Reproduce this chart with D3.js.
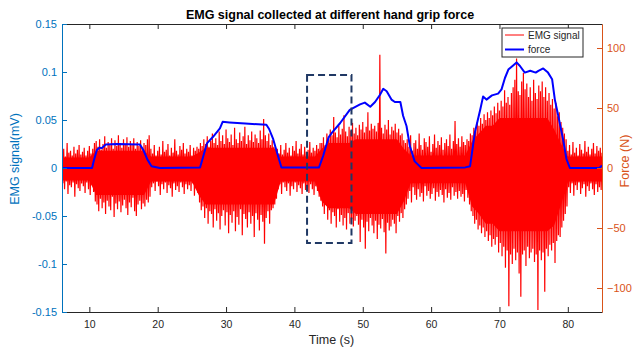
<!DOCTYPE html>
<html>
<head>
<meta charset="utf-8">
<script src="https://cdn.jsdelivr.net/npm/d3@7"></script>
<style>
  body { margin: 0; background: #fff; }
  svg { display: block; font-family: "Liberation Sans", Arial, Helvetica, sans-serif; }
</style>
</head>
<body>
<svg id="chart" width="633" height="348"></svg>
<script>
// ---- data ----
const xTicks = [10, 20, 30, 40, 50, 60, 70, 80];
const emgTicks = [-0.15, -0.1, -0.05, 0, 0.05, 0.1, 0.15];
const forceTicks = [-100, -50, 0, 50, 100];

// EMG extremes in microvolts, one pair every 0.25 s from 6 s to 85 s
// (upper peak at t, lower peak at t + 0.125)
const emgTime = d3.range(6, 85.001, 0.25);
const emgHiUV = [
  // 6 - 10.75 s, rest
  14, 20, 12, 26, 16, 18, 13, 22, 15, 19, 24, 14, 17, 21, 13, 18, 23, 15, 20, 26,
  // 11 - 18.75 s, grip 1
  28, 22, 30, 19, 25, 33, 21, 27, 24, 31, 20, 29, 23, 34, 26, 21, 30, 25, 32, 22, 28, 24, 31, 20, 27, 23, 29, 21, 26, 24, 30, 34,
  // 19 - 25.75 s, rest
  20, 15, 24, 13, 18, 22, 14, 28, 17, 19, 25, 13, 21, 16, 30, 18, 14, 23, 19, 26, 15, 20, 17, 24, 13, 21, 18, 22,
  // 26 - 37.25 s, grip 2
  20, 26, 23, 30, 25, 33, 22, 28, 36, 26, 31, 24, 38, 28, 34, 25, 40, 31, 27, 35, 24, 42, 30, 26, 37, 28, 33, 43, 25, 34,
  29, 38, 27, 35, 31, 26, 39, 30, 51, 34, 28, 36, 24, 29, 22, 19,
  // 37.5 - 43.75 s, rest
  20, 15, 24, 14, 19, 26, 16, 21, 13, 23, 18, 28, 15, 20, 25, 14, 22, 17, 19, 27, 16, 21, 18, 24, 20, 26,
  // 44 - 56.25 s, grip 3
  26, 32, 24, 36, 30, 40, 34, 53, 37, 32, 44, 35, 41, 55, 38, 33, 43, 39, 47, 36, 42, 34, 45, 40, 48, 37, 43, 58, 39, 46,
  41, 44, 38, 47, 118, 42, 36, 45, 40, 50, 35, 43, 39, 46, 37, 41, 34, 36, 29, 26,
  // 56.5 - 65.75 s, rest
  30, 22, 34, 18, 26, 29, 20, 36, 24, 19, 31, 27, 22, 33, 17, 25, 35, 21, 28, 24, 32, 19, 26, 30, 23, 35, 20, 28, 49, 25,
  31, 22, 33, 27, 24, 30, 28, 36,
  // 66 - 79.75 s, grip 4
  34, 42, 38, 48, 44, 52, 46, 56, 50, 58, 52, 60, 55, 64, 57, 68, 60, 70, 64, 81, 68, 74, 66, 78, 84, 92, 114, 80, 76, 90,
  99, 82, 88, 74, 84, 70, 92, 78, 72, 86, 80, 90, 74, 84, 70, 78, 66, 72, 62, 68, 54, 58, 48, 42, 36, 30,
  // 80 - 85 s, rest
  18, 24, 14, 27, 16, 21, 13, 25, 19, 15, 28, 17, 22, 14, 20, 26, 15, 23, 18, 21, 16
];
const emgLoUV = [
  -16, -22, -14, -27, -18, -20, -15, -30, -17, -21, -24, -16, -19, -26, -15, -22, -28, -18, -25, -35,
  -38, -45, -32, -42, -36, -48, -34, -40, -44, -30, -51, -37, -43, -35, -46, -39, -33, -42, -49, -36, -41, -31, -45, -50, -38, -34,
  -43, -37, -40, -33, -36, -30,
  -20, -16, -24, -14, -19, -28, -17, -22, -15, -26, -18, -21, -30, -16, -23, -19, -25, -15, -20, -27, -17, -22, -18, -24, -16, -29,
  -21, -26,
  -36, -44, -40, -52, -42, -58, -45, -48, -62, -43, -55, -47, -64, -50, -44, -60, -46, -68, -49, -57, -45, -66, -51, -59, -43, -70,
  -48, -53, -62, -46, -58, -50, -72, -47, -54, -65, -49, -56, -79, -52, -45, -58, -44, -42, -38, -32,
  -22, -17, -27, -15, -20, -24, -16, -29, -19, -22, -15, -25, -18, -21, -27, -16, -23, -20, -26, -17, -22, -28, -19, -24, -30, -34,
  -40, -48, -36, -54, -44, -58, -46, -50, -62, -43, -56, -49, -60, -52, -64, -47, -58, -53, -61, -55, -50, -59, -77, -54, -62, -84,
  -56, -66, -52, -60, -68, -55, -74, -59, -63, -53, -67, -89, -57, -65, -61, -54, -58, -68, -50, -56, -47, -52, -43, -38,
  -32, -24, -36, -20, -28, -33, -22, -30, -26, -35, -19, -29, -24, -32, -27, -21, -34, -25, -30, -23, -28, -36, -22, -31, -26, -33,
  -20, -29, -25, -32, -24, -30, -27, -35, -23, -31, -38, -45,
  -50, -58, -54, -64, -60, -68, -62, -72, -66, -76, -70, -82, -74, -80, -72, -88, -78, -92, -82, -104, -86, -144, -90, -100, -84, -96,
  -88, -110, -134, -90, -86, -102, -82, -94, -88, -84, -98, -90, -148, -86, -96, -88, -129, -84, -92, -80, -86, -78, -99, -76,
  -70, -72, -62, -55, -48, -40,
  -20, -26, -16, -29, -18, -23, -15, -27, -21, -17, -30, -19, -24, -16, -22, -28, -17, -25, -20, -23, -18
];

// solid core of the EMG band in microvolts, once per second from 6 s to 85 s
const coreTime = d3.range(6, 85.001, 1);
const coreHiUV = [
  11, 11, 11, 11, 11,
  18, 18, 18, 18, 18, 18, 18, 18,
  12, 12, 12, 12, 12, 12, 12,
  16, 21, 21, 21, 21, 21, 21, 21, 21, 21, 21, 21,
  12, 12, 12, 12, 12, 12,
  20, 26, 26, 26, 26, 30, 30, 30, 30, 30, 30, 30, 20,
  13, 13, 13, 13, 13, 13, 13, 13, 13,
  28, 36, 44, 44, 52, 52, 52, 52, 52, 52, 52, 52, 40, 25,
  12, 12, 12, 12, 12, 12
];
const coreLoUV = [
  -13, -13, -13, -13, -13,
  -28, -28, -28, -28, -28, -28, -28, -28,
  -14, -14, -14, -14, -14, -14, -14,
  -28, -38, -38, -38, -38, -38, -38, -38, -38, -38, -38, -38,
  -14, -14, -14, -14, -14, -14,
  -35, -42, -42, -42, -42, -48, -48, -48, -48, -48, -48, -48, -35,
  -16, -16, -16, -16, -16, -16, -16, -16, -16,
  -40, -48, -58, -58, -66, -66, -66, -66, -66, -66, -66, -66, -60, -38,
  -14, -14, -14, -14, -14, -14
];

// grip force (N)
const forceTime = [6, 10.4, 10.7, 11.1, 11.5, 11.8, 12.4, 14, 17.4, 17.9, 18.5, 19.1, 20.3,
  26.2, 27.2, 28.1, 29.1, 29.5, 30.5, 32.8, 35.9, 36.3, 36.9, 37.6, 38.1,
  43.6, 44.2, 45, 45.5, 46.7, 48.1, 49.6, 50.3, 51.1, 51.8, 52.5, 53, 53.5, 54.2, 54.7, 55.5, 55.9, 56.4, 56.9, 57.6, 58.6,
  65, 65.7, 66.4, 67.2, 67.6, 68.1, 68.9, 69.8, 70.3, 70.8, 71.3, 72, 72.5, 73, 73.7, 74.5, 75.3, 75.7, 76.4, 77.1, 77.7,
  78.1, 78.6, 79.3, 79.8, 80.3, 84.6, 85];
const forceVal = [0, 0, 7, 15, 17, 16.5, 19.5, 20, 19.5, 15, 7, 1.5, 0,
  0.5, 20.5, 26, 33, 38.5, 38, 37, 36, 32.5, 24, 10, 0.5,
  0.5, 10, 25.5, 29.5, 37.5, 48.5, 53, 54.5, 51, 55, 60.8, 66, 64, 57, 55, 55, 43.5, 35, 18, 5.5, 0,
  0.5, 1.5, 29.5, 49, 59.5, 57, 60.5, 62, 65.5, 75, 82, 85.5, 88, 85, 79.5, 81, 79.5, 81, 83, 79.5, 74,
  57, 43.5, 24, 7.5, 0, 0, 2];

// highlighted window (time s, EMG mV)
const boxTime = [41.85, 48.35];
const boxEmg = [-0.078, 0.097];

// ---- layout ----
const svg = d3.select('#chart');
const margin = {top: 24, right: 31, bottom: 36, left: 62};
const W = 633, H = 348;
const x = d3.scaleLinear().domain([6, 85]).range([margin.left, W - margin.right]);
const yL = d3.scaleLinear().domain([-0.15, 0.15]).range([H - margin.bottom, margin.top]);
const yR = d3.scaleLinear().domain([-120, 120]).range([H - margin.bottom, margin.top]);

const blueAx = '#0072BD', orangeAx = '#D95319', dark = '#262626';

svg.append('defs').append('clipPath').attr('id', 'clip')
  .append('rect')
  .attr('x', margin.left).attr('y', margin.top)
  .attr('width', W - margin.left - margin.right)
  .attr('height', H - margin.top - margin.bottom);

const plot = svg.append('g').attr('clip-path', 'url(#clip)');

// EMG core band
plot.append('path').datum(coreTime)
  .attr('fill', '#ff0000')
  .attr('d', d3.area()
    .x(t => x(t))
    .y0((t, i) => yL(coreLoUV[i] / 1000))
    .y1((t, i) => yL(coreHiUV[i] / 1000)));

// EMG: zig-zag through the read extremes
const emgPts = [];
emgTime.forEach((t, i) => {
  emgPts.push([t, emgHiUV[i] / 1000]);
  emgPts.push([t + 0.125, emgLoUV[i] / 1000]);
});
plot.append('path').datum(emgPts)
  .attr('fill', 'none')
  .attr('stroke', '#ff0000')
  .attr('stroke-width', 1.2)
  .attr('d', d3.line().x(d => x(d[0])).y(d => yL(d[1])));

// force
plot.append('path').datum(forceTime.map((t, i) => [t, forceVal[i]]))
  .attr('fill', 'none')
  .attr('stroke', '#0000ff')
  .attr('stroke-width', 2)
  .attr('stroke-linejoin', 'round')
  .attr('d', d3.line().x(d => x(d[0])).y(d => yR(d[1])));

// dashed box
svg.append('rect')
  .attr('x', x(boxTime[0])).attr('y', yL(boxEmg[1]))
  .attr('width', x(boxTime[1]) - x(boxTime[0]))
  .attr('height', yL(boxEmg[0]) - yL(boxEmg[1]))
  .attr('fill', 'none')
  .attr('stroke', '#203864')
  .attr('stroke-width', 2)
  .attr('stroke-dasharray', '7,4');

// ---- axes ----
function styleAxis(g, color, size) {
  g.select('.domain').attr('stroke', color);
  g.selectAll('.tick line').attr('stroke', color);
  g.selectAll('.tick text').attr('fill', color).attr('font-size', size);
}

const gTop = svg.append('g')
  .attr('transform', `translate(0,${margin.top})`)
  .call(d3.axisTop(x).tickValues(xTicks).tickSize(-5).tickSizeOuter(0).tickFormat(''));
styleAxis(gTop, dark, 10.5);

const gBottom = svg.append('g')
  .attr('transform', `translate(0,${H - margin.bottom})`)
  .call(d3.axisBottom(x).tickValues(xTicks).tickSize(-5).tickSizeOuter(0).tickPadding(9));
styleAxis(gBottom, dark, 10.5);

const gLeft = svg.append('g')
  .attr('transform', `translate(${margin.left},0)`)
  .call(d3.axisLeft(yL).tickValues(emgTicks).tickSize(-5).tickSizeOuter(0).tickPadding(5)
    .tickFormat(d => String(+d.toFixed(2))));
styleAxis(gLeft, blueAx, 11);

const gRight = svg.append('g')
  .attr('transform', `translate(${W - margin.right},0)`)
  .call(d3.axisRight(yR).tickValues(forceTicks).tickSize(-5).tickSizeOuter(0).tickPadding(5));
styleAxis(gRight, orangeAx, 11);

// ---- labels ----
svg.append('text')
  .attr('x', 330).attr('y', 18.5)
  .attr('text-anchor', 'middle')
  .attr('font-size', 12.5).attr('font-weight', 'bold').attr('fill', '#000')
  .text('EMG signal collected at different hand grip force');

svg.append('text')
  .attr('x', 331.5).attr('y', 344)
  .attr('text-anchor', 'middle')
  .attr('font-size', 12.5).attr('fill', dark)
  .text('Time (s)');

svg.append('text')
  .attr('transform', 'translate(18.5,159) rotate(-90)')
  .attr('text-anchor', 'middle')
  .attr('font-size', 12.5).attr('fill', blueAx)
  .text('EMG signal(mV)');

svg.append('text')
  .attr('transform', 'translate(629,161) rotate(-90)')
  .attr('text-anchor', 'middle')
  .attr('font-size', 12.5).attr('fill', orangeAx)
  .text('Force (N)');

// ---- legend ----
const legendItems = [
  {label: 'EMG signal', color: '#ff0000', width: 1},
  {label: 'force', color: '#0000ff', width: 2}
];
const lg = svg.append('g').attr('transform', 'translate(502,28)');
lg.append('rect')
  .attr('width', 81).attr('height', 29)
  .attr('fill', '#fff').attr('stroke', dark).attr('stroke-width', 1);
legendItems.forEach((d, i) => {
  const yy = 7 + i * 14.5;
  lg.append('line')
    .attr('x1', 3).attr('x2', 22).attr('y1', yy).attr('y2', yy)
    .attr('stroke', d.color).attr('stroke-width', d.width);
  lg.append('text')
    .attr('x', 26).attr('y', yy + 3.5)
    .attr('font-size', 10).attr('fill', dark)
    .text(d.label);
});
</script>
</body>
</html>
